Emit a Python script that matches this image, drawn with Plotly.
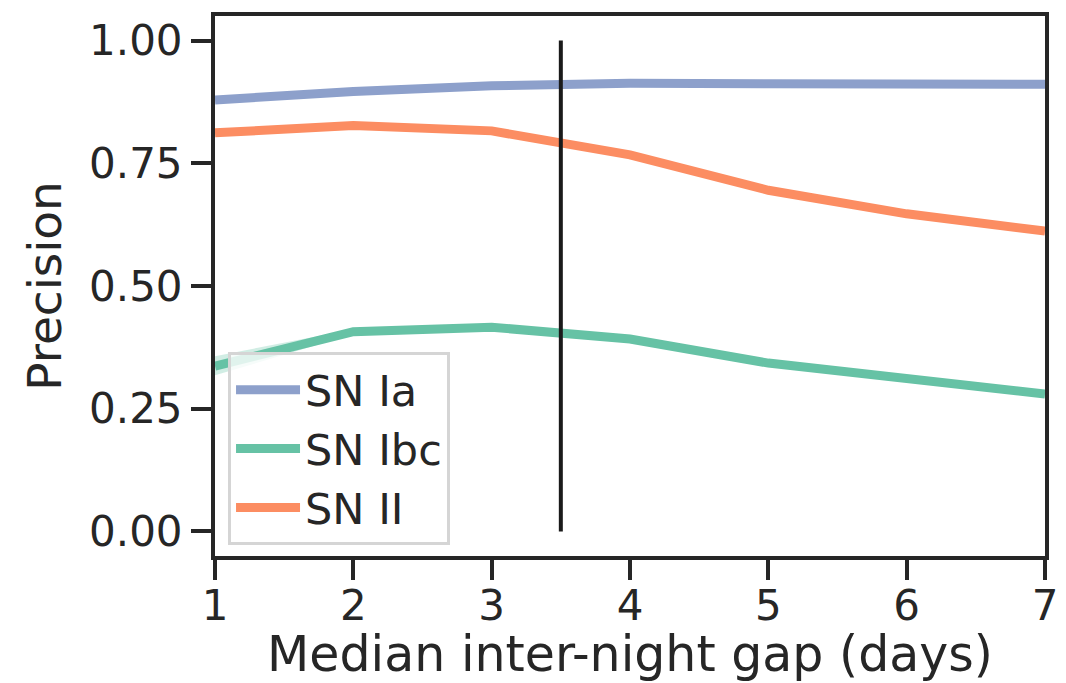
import plotly.graph_objects as go

gap_days = [1, 2, 3, 4, 5, 6, 7]
prec_ia = [0.879, 0.896, 0.908, 0.913, 0.912, 0.911, 0.911]
prec_ibc = [0.337, 0.407, 0.416, 0.392, 0.343, 0.311, 0.280]
prec_ii = [0.812, 0.827, 0.816, 0.767, 0.695, 0.647, 0.612]
ibc_lo = [0.318, 0.402, 0.411, 0.388, 0.339, 0.307, 0.273]
ibc_hi = [0.357, 0.412, 0.421, 0.397, 0.347, 0.315, 0.287]
ii_lo = [0.808, 0.823, 0.812, 0.763, 0.691, 0.643, 0.605]
ii_hi = [0.816, 0.831, 0.820, 0.771, 0.699, 0.651, 0.618]
vline_x = [3.5, 3.5]
vline_y = [0.0, 1.0]
yticks = [0.0, 0.25, 0.5, 0.75, 1.0]
ytick_text = ["0.00", "0.25", "0.50", "0.75", "1.00"]

C_IA = "#8da0cb"
C_IBC = "#66c2a5"
C_II = "#fc8d62"
INK = "#262626"
FONT = "DejaVu Sans"

fig = go.Figure()

def band(lo, hi, color):
    fig.add_trace(go.Scatter(x=gap_days, y=hi, mode="lines", line=dict(width=0),
                             showlegend=False, hoverinfo="skip"))
    fig.add_trace(go.Scatter(x=gap_days, y=lo, mode="lines", line=dict(width=0),
                             fill="tonexty", fillcolor=color, showlegend=False,
                             hoverinfo="skip"))

band(ibc_lo, ibc_hi, "rgba(102,194,165,0.3)")
band(ii_lo, ii_hi, "rgba(252,141,98,0.3)")

fig.add_trace(go.Scatter(x=gap_days, y=prec_ia, mode="lines", name="SN Ia",
                         line=dict(color=C_IA, width=9)))
fig.add_trace(go.Scatter(x=gap_days, y=prec_ibc, mode="lines", name="SN Ibc",
                         line=dict(color=C_IBC, width=9)))
fig.add_trace(go.Scatter(x=gap_days, y=prec_ii, mode="lines", name="SN II",
                         line=dict(color=C_II, width=9)))
fig.add_trace(go.Scatter(x=vline_x, y=vline_y, mode="lines", showlegend=False,
                         line=dict(color="#1a1a1a", width=4)))

# the page body adds an 8px offset, so the figure is 8px smaller than the window
fig.update_layout(
    width=1058, height=675,
    margin=dict(l=207, r=21, t=8, b=127),
    paper_bgcolor="white", plot_bgcolor="white",
    font=dict(family=FONT, color=INK, size=42),
    showlegend=True,
    legend=dict(x=0.0157, y=0.02, xanchor="left", yanchor="bottom",
                traceorder="normal",
                bgcolor="rgba(255,255,255,0.8)", bordercolor="#d5d5d5",
                borderwidth=3, font=dict(size=43, family=FONT, color=INK),
                tracegroupgap=0, itemwidth=64),
)
fig.update_xaxes(range=[1, 7], tickvals=gap_days, ticks="outside", ticklen=20,
                 tickwidth=4, tickcolor=INK, showline=True, linewidth=4,
                 linecolor=INK, mirror=True, showgrid=False, zeroline=False,
                 automargin=False, tickfont=dict(size=42), ticklabelstandoff=-10,
                 title=dict(text="Median inter-night gap (days)",
                            font=dict(size=49), standoff=14))
fig.update_yaxes(range=[-0.05, 1.05], tickvals=yticks, ticktext=ytick_text,
                 ticks="outside", ticklen=20, tickwidth=4, tickcolor=INK,
                 showline=True, linewidth=4, linecolor=INK, mirror=True,
                 showgrid=False, zeroline=False, automargin=False,
                 tickfont=dict(size=42),
                 title=dict(text="Precision", font=dict(size=47), standoff=14))

fig.write_html("out.html")
